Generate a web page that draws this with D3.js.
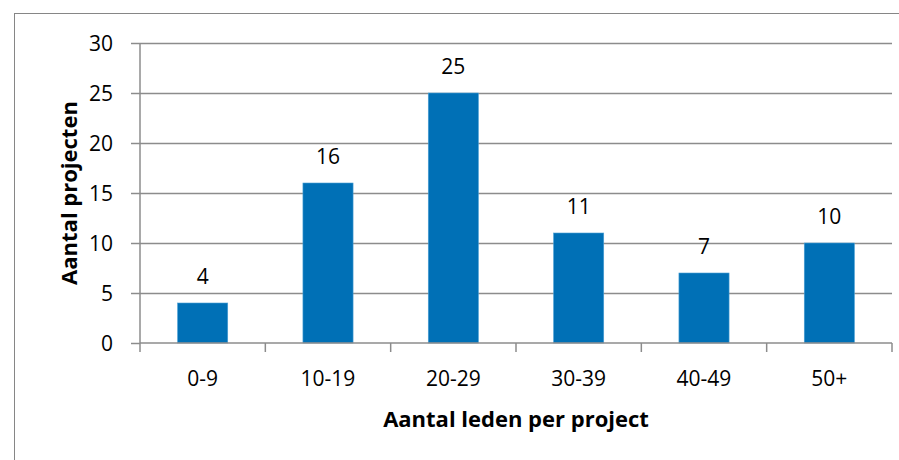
<!DOCTYPE html>
<meta charset="utf-8">
<script src="https://d3js.org/d3.v7.min.js"></script>
<style>
body { margin: 0; background: #fff; }
text { font-family: "Open Sans", sans-serif; fill: #000; }
</style>
<div id="chart"></div>
<script>

// data
var categories = ["0-9", "10-19", "20-29", "30-39", "40-49", "50+"];
var counts = [4, 16, 25, 11, 7, 10];
var yTicks = [0, 5, 10, 15, 20, 25, 30];
var xTitle = "Aantal leden per project";
var yTitle = "Aantal projecten";

var W = 899, H = 460;
var margin = {top: 43, right: 7, bottom: 117, left: 140},
    width = W - margin.left - margin.right,
    height = H - margin.top - margin.bottom;

var root = d3.select("#chart").append("svg")
    .attr("width", W)
    .attr("height", H);

// outer chart border
root.append("rect")
    .attr("x", 14.5).attr("y", 13.5)
    .attr("width", W - 14).attr("height", H)
    .attr("fill", "none")
    .attr("stroke", "#868686")
    .attr("stroke-width", 1);

var svg = root.append("g")
    .attr("transform", "translate(" + margin.left + "," + margin.top + ")");

var x = d3.scaleBand()
    .domain(categories)
    .range([0, width])
    .paddingInner(0.6)
    .paddingOuter(0.3);

var y = d3.scaleLinear()
    .domain([0, 30])
    .range([height, 0]);

// gridlines
svg.append("g")
  .selectAll("line")
  .data(yTicks.filter(function(d) { return d > 0; }))
  .enter().append("line")
    .attr("x1", 0).attr("x2", width)
    .attr("y1", function(d) { return Math.round(y(d)) + 0.5; })
    .attr("y2", function(d) { return Math.round(y(d)) + 0.5; })
    .attr("stroke", "#8c8c8c")
    .attr("stroke-width", 1.5);

// bars
svg.append("g")
  .selectAll("rect")
  .data(counts)
  .enter().append("rect")
    .attr("x", function(d, i) { return x(categories[i]); })
    .attr("y", function(d) { return y(d); })
    .attr("width", x.bandwidth())
    .attr("height", function(d) { return height - y(d); })
    .attr("fill", "#0070b6")
    .attr("stroke", "#4a9fd4")
    .attr("stroke-width", 0.6);

// value labels
svg.append("g")
  .selectAll("text")
  .data(counts)
  .enter().append("text")
    .attr("x", function(d, i) { return x(categories[i]) + x.bandwidth() / 2; })
    .attr("y", function(d) { return y(d) - 19; })
    .attr("text-anchor", "middle")
    .style("font-size", "21px")
    .text(function(d) { return d; });

// y axis
var yAxis = svg.append("g")
    .call(d3.axisLeft(y).tickValues(yTicks).tickSize(9).tickPadding(18));
yAxis.selectAll("line").attr("stroke", "#8c8c8c").attr("stroke-width", 1.5);
yAxis.select(".domain").attr("stroke", "#8c8c8c").attr("stroke-width", 1.5)
    .attr("d", "M0," + height + "V0");
yAxis.selectAll("text").style("font-size", "21px").attr("dy", "0.35em");

// x axis with ticks between categories
var step = width / categories.length;
var xAxis = svg.append("g")
    .attr("transform", "translate(0," + height + ")");
xAxis.append("line")
    .attr("x1", 0).attr("x2", width)
    .attr("y1", 0).attr("y2", 0)
    .attr("stroke", "#8c8c8c").attr("stroke-width", 1.5);
xAxis.selectAll(".tk")
  .data(d3.range(categories.length + 1))
  .enter().append("line")
    .attr("class", "tk")
    .attr("x1", function(i) { return i * step; })
    .attr("x2", function(i) { return i * step; })
    .attr("y1", 0).attr("y2", 9)
    .attr("stroke", "#8c8c8c").attr("stroke-width", 1.5);
xAxis.selectAll(".lbl")
  .data(categories)
  .enter().append("text")
    .attr("class", "lbl")
    .attr("x", function(d) { return x(d) + x.bandwidth() / 2; })
    .attr("y", 43)
    .attr("text-anchor", "middle")
    .style("font-size", "21px")
    .text(function(d) { return d; });

// axis titles
svg.append("text")
    .attr("x", width / 2)
    .attr("y", height + 84)
    .attr("text-anchor", "middle")
    .style("font-size", "22px")
    .style("font-weight", "bold")
    .text(xTitle);

svg.append("text")
    .attr("transform", "translate(-63," + (height / 2) + ") rotate(-90)")
    .attr("text-anchor", "middle")
    .style("font-size", "22px")
    .style("font-weight", "bold")
    .text(yTitle);

</script>
